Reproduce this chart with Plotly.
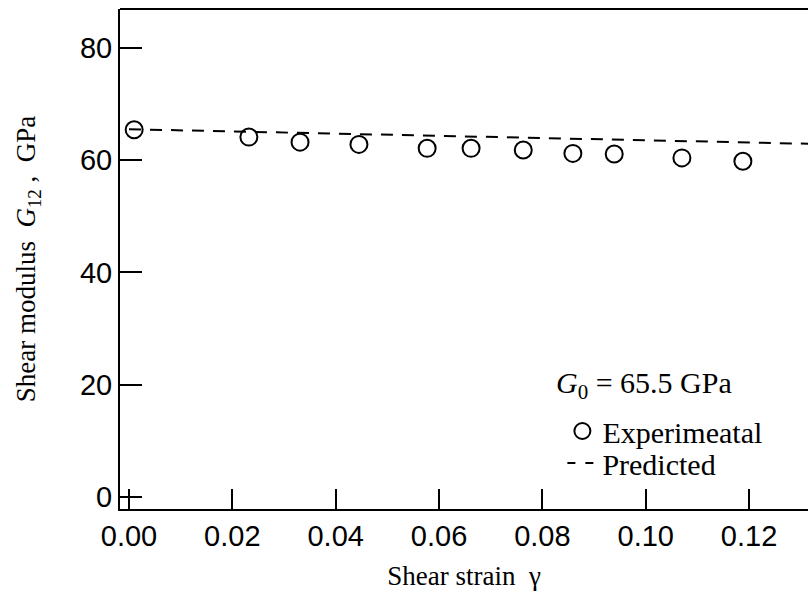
import plotly.graph_objects as go

# Experimental data
strain_exp = [0.001, 0.0232, 0.0331, 0.0445, 0.0577, 0.0662, 0.0763, 0.0859, 0.0939, 0.1070, 0.1188]
modulus_exp = [65.4, 64.1, 63.2, 62.8, 62.1, 62.1, 61.8, 61.2, 61.1, 60.4, 59.8]

# Predicted curve
strain_pred = [0.0, 0.066, 0.132]
modulus_pred = [65.5, 64.2, 62.9]

x_ticks = [0.0, 0.02, 0.04, 0.06, 0.08, 0.10, 0.12]
x_tick_labels = ["0.00", "0.02", "0.04", "0.06", "0.08", "0.10", "0.12"]
y_ticks = [0, 20, 40, 60, 80]

serif = "Liberation Serif, Times New Roman, serif"
sans = "Liberation Sans, Arial, sans-serif"

fig = go.Figure()
fig.add_trace(go.Scatter(
    x=strain_pred, y=modulus_pred, mode="lines", name="Predicted",
    line=dict(color="black", width=2, dash="12px,9px"), showlegend=False,
))
fig.add_trace(go.Scatter(
    x=strain_exp, y=modulus_exp, mode="markers", name="Experimeatal",
    marker=dict(symbol="circle-open", size=17, color="black", line=dict(width=2, color="black")),
    legend="legend",
))
fig.add_trace(go.Scatter(
    x=[None], y=[None], mode="lines", name="Predicted",
    line=dict(color="black", width=2, dash="8px,10px"),
    legend="legend2",
))

legend_font = dict(family=serif, size=30, color="black")
fig.update_layout(
    width=808, height=592,
    margin=dict(l=120, r=0, t=9, b=83),
    plot_bgcolor="white", paper_bgcolor="white",
    font=dict(family=sans, size=22, color="black"),
    legend=dict(x=0.643, y=0.156, xanchor="left", yanchor="middle",
                font=legend_font, bgcolor="rgba(0,0,0,0)", itemwidth=30),
    legend2=dict(x=0.643, y=0.092, xanchor="left", yanchor="middle",
                 font=legend_font, bgcolor="rgba(0,0,0,0)", itemwidth=30),
    annotations=[
        dict(
            text="<i>G</i><sub>0</sub> = 65.5 GPa",
            x=0.0822, y=20.0, xref="x", yref="y", xanchor="left", yanchor="middle",
            showarrow=False, font=dict(family=serif, size=30, color="black"),
        )
    ],
)

fig.update_xaxes(
    range=[-0.00174, 0.1314], tickvals=x_ticks, ticktext=x_tick_labels,
    ticks="inside", ticklen=20, tickwidth=2, tickcolor="black",
    showline=True, linewidth=2, linecolor="black", mirror=False,
    showgrid=False, zeroline=False,
    tickfont=dict(family=sans, size=29, color="black"),
    title=dict(text="Shear strain  γ", font=dict(family=serif, size=27, color="black"), standoff=15),
)
fig.update_yaxes(
    range=[-2.1, 86.9], tickvals=y_ticks,
    ticks="inside", ticklen=22, tickwidth=2, tickcolor="black",
    showline=True, linewidth=2, linecolor="black",
    showgrid=False, zeroline=False,
    tickfont=dict(family=sans, size=29, color="black"),
    title=dict(text="Shear modulus  <i>G</i><sub>12</sub> ,  GPa", font=dict(family=serif, size=27, color="black"), standoff=36),
)
# top frame line
fig.add_shape(type="line", xref="paper", yref="paper", x0=0, x1=1, y0=1, y1=1,
              line=dict(color="black", width=2))

fig.write_html("out.html")
